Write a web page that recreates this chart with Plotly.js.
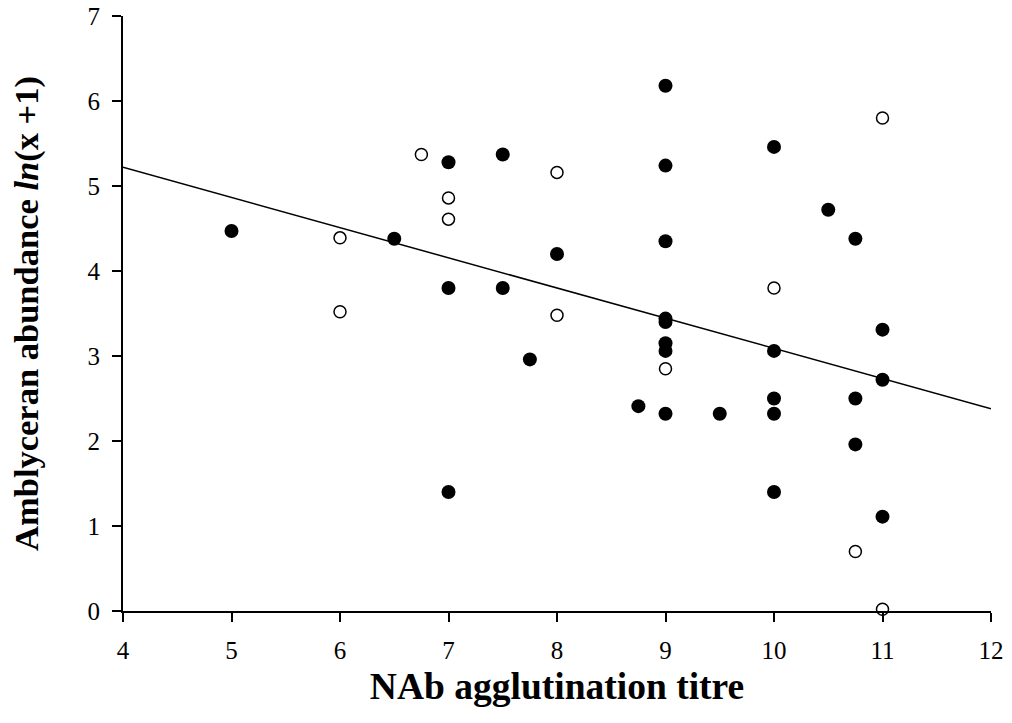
<!DOCTYPE html>
<html>
<head>
<meta charset="utf-8">
<script src="https://cdn.plot.ly/plotly-3.0.1.min.js"></script>
<style>html,body{margin:0;padding:0;background:#fff;}#chart{width:1012px;height:723px;}</style>
</head>
<body>
<div id="chart"></div>
<script>
// Filled circles
var filledX = [5, 6.5, 7, 7, 7, 7.5, 7.5, 7.75, 8, 8.75, 9, 9, 9, 9, 9, 9, 9, 9, 9.5, 10, 10, 10, 10, 10, 10.5, 10.75, 10.75, 10.75, 11, 11, 11];
var filledY = [4.47, 4.38, 5.28, 3.80, 1.40, 5.37, 3.80, 2.96, 4.20, 2.41, 6.18, 5.24, 4.35, 3.44, 3.40, 3.15, 3.06, 2.32, 2.32, 5.46, 3.06, 2.50, 2.32, 1.40, 4.72, 4.38, 2.50, 1.96, 3.31, 2.72, 1.11];
// Open circles
var openX = [6, 6, 6.75, 7, 7, 8, 8, 9, 10, 10.75, 11, 11];
var openY = [4.39, 3.52, 5.37, 4.86, 4.61, 5.16, 3.48, 2.85, 3.80, 0.70, 5.80, 0.02];
// Regression line
var lineX = [4, 12];
var lineY = [5.22, 2.38];
var xTicks = [4, 5, 6, 7, 8, 9, 10, 11, 12];
var yTicks = [0, 1, 2, 3, 4, 5, 6, 7];

var traces = [
  {x: lineX, y: lineY, mode: 'lines', line: {color: '#000', width: 1.5}, showlegend: false, hoverinfo: 'skip'},
  {x: filledX, y: filledY, mode: 'markers', marker: {symbol: 'circle', size: 14, color: '#000', line: {width: 0}}, showlegend: false, cliponaxis: false},
  {x: openX, y: openY, mode: 'markers', marker: {symbol: 'circle', size: 12, color: '#fff', line: {color: '#000', width: 1.5}}, showlegend: false, cliponaxis: false}
];

var ff = '"Liberation Serif", "Times New Roman", serif';
var layout = {
  width: 1012, height: 723,
  margin: {l: 123, r: 21, t: 16, b: 112},
  paper_bgcolor: '#fff', plot_bgcolor: '#fff',
  font: {family: ff, color: '#000'},
  showlegend: false,
  xaxis: {
    range: [4, 12], tickvals: xTicks, ticktext: xTicks.map(String),
    showgrid: false, zeroline: false, showline: true, linecolor: '#000', linewidth: 2,
    ticks: 'outside', ticklen: 9, tickwidth: 2, tickcolor: '#000',
    ticklabelstandoff: 7,
    tickfont: {family: ff, size: 25, color: '#000'},
    title: {text: '<b>NAb agglutination titre</b>', font: {family: ff, size: 37.5, color: '#000'}, standoff: 10}
  },
  yaxis: {
    range: [0, 7], tickvals: yTicks, ticktext: yTicks.map(String),
    showgrid: false, zeroline: false, showline: true, linecolor: '#000', linewidth: 2,
    ticks: 'outside', ticklen: 9, tickwidth: 2, tickcolor: '#000',
    ticklabelstandoff: 7,
    tickfont: {family: ff, size: 25, color: '#000'},
    title: {text: '<b>Amblyceran abundance <i>ln</i>(x +1)</b>', font: {family: ff, size: 34.5, color: '#000'}, standoff: 38}
  }
};
Plotly.newPlot('chart', traces, layout, {displayModeBar: false, staticPlot: true});
</script>
</body>
</html>
